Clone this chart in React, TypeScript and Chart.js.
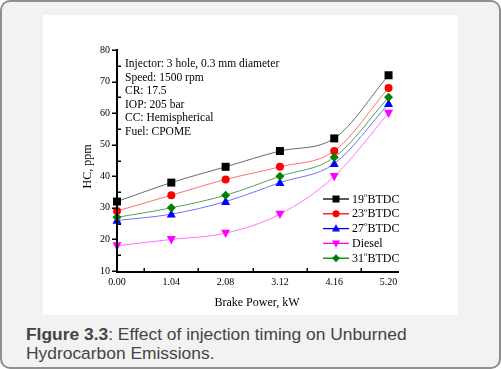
import React, { useEffect, useRef } from "react";
import { Chart, registerables } from "chart.js";

Chart.register(...registerables);

const brakePower = [0, 1.04, 2.08, 3.12, 4.16, 5.2];
const xTickValues = [0, 1.04, 2.08, 3.12, 4.16, 5.2];
const xMinorTicks = [0.52, 1.56, 2.6, 3.64, 4.68];
const yMinorTicks = [15, 25, 35, 45, 55, 65, 75];

const hc19 = [32, 38, 43, 48, 52, 72];
const hc23 = [29, 34, 39, 43, 48, 68];
const hc27 = [26, 28, 32, 38, 44, 63];
const hcDiesel = [18, 20, 22, 28, 40, 60];
const hc31 = [27, 30, 34, 40, 46, 65];

const seriesLabels = [
  { pre: "19", sup: "o", post: "BTDC" },
  { pre: "23", sup: "o", post: "BTDC" },
  { pre: "27", sup: "o", post: "BTDC" },
  { pre: "Diesel", sup: "", post: "" },
  { pre: "31", sup: "o", post: "BTDC" },
];

const annotationLines = [
  "Injector: 3 hole, 0.3 mm diameter",
  "Speed: 1500 rpm",
  "CR: 17.5",
  "IOP: 205 bar",
  "CC: Hemispherical",
  "Fuel: CPOME",
];

const SERIF = "'Liberation Serif', 'Times New Roman', serif";

type Style = { marker: string; color: string; line: string; r: number };
const styles: Style[] = [
  { marker: "square", color: "#000000", line: "#6a6a6a", r: 4 },
  { marker: "circle", color: "#ff0000", line: "#ff7070", r: 4 },
  { marker: "triangle", color: "#0000ff", line: "#7070ff", r: 4.5 },
  { marker: "triangleDown", color: "#ff00ff", line: "#ff70ff", r: 4.5 },
  { marker: "diamond", color: "#008000", line: "#55a055", r: 4.5 },
];

function drawMarker(ctx: CanvasRenderingContext2D, kind: string, x: number, y: number, r: number, color: string) {
  ctx.save();
  ctx.fillStyle = color;
  ctx.beginPath();
  if (kind === "square") {
    ctx.rect(x - r, y - r, 2 * r, 2 * r);
  } else if (kind === "circle") {
    ctx.arc(x, y, r, 0, Math.PI * 2);
  } else if (kind === "triangle") {
    ctx.moveTo(x, y - r * 1.1);
    ctx.lineTo(x + r, y + r * 0.75);
    ctx.lineTo(x - r, y + r * 0.75);
    ctx.closePath();
  } else if (kind === "triangleDown") {
    ctx.moveTo(x, y + r * 1.1);
    ctx.lineTo(x + r, y - r * 0.75);
    ctx.lineTo(x - r, y - r * 0.75);
    ctx.closePath();
  } else {
    ctx.moveTo(x, y - r);
    ctx.lineTo(x + r, y);
    ctx.lineTo(x, y + r);
    ctx.lineTo(x - r, y);
    ctx.closePath();
  }
  ctx.fill();
  ctx.restore();
}

const decorPlugin = {
  id: "decor",
  afterDatasetsDraw(chart: any) {
    const ctx: CanvasRenderingContext2D = chart.ctx;
    const { left, right, top, bottom } = chart.chartArea;
    const xs = chart.scales.x;
    const ys = chart.scales.y;

    chart.data.datasets.forEach((ds: any, i: number) => {
      const st = styles[i];
      ds.data.forEach((p: any) => {
        drawMarker(ctx, st.marker, xs.getPixelForValue(p.x), ys.getPixelForValue(p.y), st.r, st.color);
      });
    });

    ctx.save();
    ctx.strokeStyle = "#000";
    ctx.lineWidth = 2;
    ctx.beginPath();
    ctx.moveTo(left, top - 1);
    ctx.lineTo(left, bottom + 1);
    ctx.lineTo(right, bottom + 1);
    ctx.stroke();
    ctx.lineWidth = 1.5;
    ctx.beginPath();
    for (let v = 10; v <= 80; v += 10) {
      const y = Math.round(ys.getPixelForValue(v)) + 0.25;
      ctx.moveTo(left - 5, y);
      ctx.lineTo(left, y);
    }
    yMinorTicks.forEach((v) => {
      const y = Math.round(ys.getPixelForValue(v)) + 0.25;
      ctx.moveTo(left, y);
      ctx.lineTo(left + 4, y);
    });
    xMinorTicks.forEach((v) => {
      const x = Math.round(xs.getPixelForValue(v)) + 0.25;
      ctx.moveTo(x, bottom);
      ctx.lineTo(x, bottom - 3);
    });
    ctx.stroke();

    ctx.fillStyle = "#000";
    ctx.font = `11.5px ${SERIF}`;
    ctx.textAlign = "left";
    ctx.textBaseline = "middle";
    annotationLines.forEach((t, i) => {
      ctx.fillText(t, left + 8, top + 14 + i * 13.6);
    });

    const lx1 = right - 76;
    const lx2 = right - 50;
    const ly0 = bottom - 72;
    seriesLabels.forEach((lab, i) => {
      const st = styles[i];
      const y = ly0 + i * 14.8;
      ctx.strokeStyle = st.color;
      ctx.lineWidth = 1.3;
      ctx.beginPath();
      ctx.moveTo(lx1, y);
      ctx.lineTo(lx2, y);
      ctx.stroke();
      drawMarker(ctx, st.marker, (lx1 + lx2) / 2, y, st.r - 0.5, st.color);
      ctx.fillStyle = "#000";
      ctx.textBaseline = "middle";
      ctx.font = `12px ${SERIF}`;
      let tx = lx2 + 3;
      ctx.fillText(lab.pre, tx, y + 0.5);
      tx += ctx.measureText(lab.pre).width;
      if (lab.sup) {
        ctx.font = `7px ${SERIF}`;
        ctx.fillText(lab.sup, tx, y - 4);
        tx += ctx.measureText(lab.sup).width;
        ctx.font = `12px ${SERIF}`;
      }
      if (lab.post) ctx.fillText(lab.post, tx, y + 0.5);
    });

    ctx.font = `12px ${SERIF}`;
    ctx.textAlign = "center";
    ctx.fillText("Brake Power, kW", (left + right) / 2 - 1, bottom + 32);
    ctx.save();
    ctx.translate(left - 29, (top + bottom) / 2 + 6);
    ctx.rotate(-Math.PI / 2);
    ctx.fillText("HC, ppm", 0, 0);
    ctx.restore();
    ctx.restore();
  },
};

export default function App() {
  const ref = useRef<HTMLCanvasElement>(null);
  useEffect(() => {
    document.body.style.margin = "0";
    const mk = (vals: number[]) => brakePower.map((x, i) => ({ x, y: vals[i] }));
    const all = [hc19, hc23, hc27, hcDiesel, hc31];
    const chart = new Chart(ref.current!, {
      type: "line",
      data: {
        datasets: all.map((vals, i) => ({
          label: seriesLabels[i].pre + seriesLabels[i].post,
          data: mk(vals),
          borderColor: styles[i].line,
          borderWidth: 1,
          pointRadius: 0,
          cubicInterpolationMode: "monotone" as const,
          fill: false,
        })),
      },
      options: {
        responsive: false,
        animation: false,
        devicePixelRatio: 1,
        layout: { padding: { top: 35, right: 59, left: 0, bottom: 0 } },
        plugins: { legend: { display: false }, tooltip: { enabled: false } },
        scales: {
          x: {
            type: "linear",
            min: 0,
            max: 5.4,
            grid: { display: false, drawTicks: false },
            border: { display: false },
            afterBuildTicks: (s: any) => {
              s.ticks = xTickValues.map((v) => ({ value: v }));
            },
            afterFit: (s: any) => {
              s.height = 44;
            },
            ticks: {
              autoSkip: false,
              maxRotation: 0,
              padding: 5,
              color: "#000",
              font: { family: SERIF, size: 10 },
              callback: (v: any) => Number(v).toFixed(2),
            },
          },
          y: {
            min: 10,
            max: 80,
            grid: { display: false, drawTicks: false },
            border: { display: false },
            afterFit: (s: any) => {
              s.width = 74;
            },
            ticks: {
              stepSize: 10,
              padding: 7,
              color: "#000",
              font: { family: SERIF, size: 10 },
            },
          },
        },
      },
      plugins: [decorPlugin],
    });
    return () => chart.destroy();
  }, []);

  return (
    <div style={{ position: "relative", width: 501, height: 369, overflow: "hidden" }}>
      <div
        style={{
          position: "absolute",
          left: 0,
          top: 0,
          width: 497,
          height: 365,
          background: "#f1f2f1",
          border: "2px solid #8f8f8f",
          borderRadius: 10,
        }}
      />
      <div style={{ position: "absolute", left: 43, top: 15, width: 415, height: 300, background: "#fff" }}>
        <canvas ref={ref} width={415} height={300} style={{ display: "block" }} />
      </div>
      <div
        style={{
          position: "absolute",
          left: 26,
          top: 325,
          width: 440,
          fontFamily: "'Liberation Sans', Arial, sans-serif",
          fontSize: 17.4,
          lineHeight: "19px",
          color: "#444",
        }}
      >
        <b>FIgure 3.3</b>: Effect of injection timing on Unburned Hydrocarbon Emissions.
      </div>
    </div>
  );
}
